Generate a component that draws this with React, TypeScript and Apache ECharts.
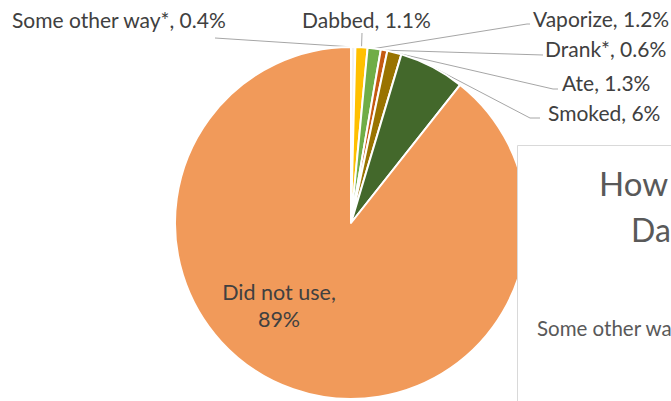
import React, { useEffect, useRef } from 'react';
import * as echarts from 'echarts';

const categories = ['Some other way*', 'Dabbed', 'Vaporize', 'Drank*', 'Ate', 'Smoked', 'Did not use'];
const values = [0.4, 1.1, 1.2, 0.6, 1.3, 6, 89];
const colors = ['#F2F2F2', '#FFC000', '#70AD47', '#C55A11', '#997300', '#43682B', '#F19A5A'];
// visible parts of the overlapping second chart's title and legend
const overlayTitleLines = ['How', 'Da'];
const overlayLegendText = 'Some other wa';

// label layout (positions only)
const labelLayouts: any[] = [
  { x: 12, y: 19, line: [[215, 38]] },
  { x: 302, y: 19, line: [[362, 33]] },
  { x: 533, y: 18, line: [[527, 24], [530, 24]] },
  { x: 545, y: 48, line: [[543, 55]] },
  { x: 562, y: 82, line: [[553, 89], [558, 89]] },
  { x: 548, y: 112, line: [[530, 118], [540, 118]] },
  { x: 279, y: 305, inside: true },
];

const FONT = 'Lato';

export default function App() {
  const ref = useRef<HTMLDivElement>(null);
  useEffect(() => {
    if (!ref.current) return;
    const chart = echarts.init(ref.current, null, { renderer: 'svg' });
    const data = categories.map((name, i) => {
      const inside = labelLayouts[i].inside;
      return {
        name,
        value: values[i],
        itemStyle: { color: colors[i] },
        label: inside
          ? { position: 'inside', formatter: `${name},\n${values[i]}%`, lineHeight: 27, fontSize: 21.5 }
          : { position: 'outside', formatter: `${name}, ${values[i]}%` },
        labelLine: { show: !inside },
      };
    });
    chart.setOption({
      animation: false,
      backgroundColor: '#ffffff',
      series: [
        {
          type: 'pie',
          center: [351, 223],
          radius: [0, 176],
          startAngle: 90,
          clockwise: true,
          avoidLabelOverlap: false,
          itemStyle: { borderColor: '#ffffff', borderWidth: 2 },
          label: { color: '#404040', fontFamily: FONT, fontSize: 21 },
          labelLine: { length: 10, length2: 10, lineStyle: { color: '#A6A6A6', width: 1 } },
          labelLayout: (params: any) => {
            const l = labelLayouts[params.dataIndex];
            if (!l) return {};
            if (l.inside) return { x: l.x, y: l.y, align: 'center', verticalAlign: 'middle' };
            const pts = params.labelLinePoints;
            const res: any = { x: l.x, y: l.y, align: 'left', verticalAlign: 'middle' };
            if (pts && pts[0]) res.labelLinePoints = [pts[0], ...l.line];
            return res;
          },
          emphasis: { disabled: true },
          data,
        },
      ],
      graphic: [
        {
          type: 'rect',
          z: 100,
          shape: { x: 517.5, y: 145.5, width: 300, height: 300 },
          style: { fill: '#ffffff', stroke: '#D9D9D9', lineWidth: 1 },
        },
        {
          type: 'text',
          z: 101,
          x: 599,
          y: 183,
          style: { text: overlayTitleLines[0], fill: '#595959', font: `33px ${FONT}`, verticalAlign: 'middle' },
        },
        {
          type: 'text',
          z: 101,
          x: 631,
          y: 229,
          style: { text: overlayTitleLines[1], fill: '#595959', font: `32px ${FONT}`, verticalAlign: 'middle' },
        },
        {
          type: 'text',
          z: 101,
          x: 537,
          y: 328,
          style: { text: overlayLegendText, fill: '#595959', font: `20.5px ${FONT}`, verticalAlign: 'middle' },
        },
      ],
    });
    return () => chart.dispose();
  }, []);
  return <div ref={ref} style={{ position: 'absolute', left: 0, top: 0, width: 671, height: 401 }} />;
}
